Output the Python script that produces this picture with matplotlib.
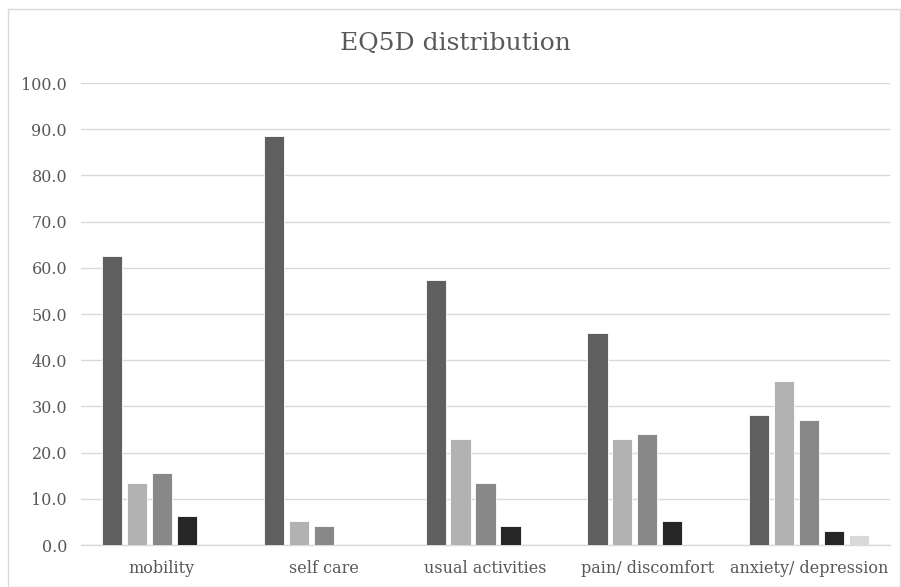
import numpy as np
import matplotlib.pyplot as plt
from matplotlib.patches import Rectangle

categories = ['mobility', 'self care', 'usual activities', 'pain/ discomfort', 'anxiety/ depression']
level1 = [62.5, 88.5, 57.3, 45.8, 28.1]
level2 = [13.5, 5.2, 22.9, 22.9, 35.4]
level3 = [15.6, 4.2, 13.5, 24.0, 27.1]
level4 = [6.2, 0.0, 4.2, 5.2, 3.1]
level5 = [0.0, 0.0, 0.0, 0.0, 2.1]
series = [level1, level2, level3, level4, level5]
colors = ['#5f5f5f', '#b2b2b2', '#888888', '#262626', '#d9d9d9']

plt.rcParams['font.family'] = ['DejaVu Serif']
txt = '#595959'

fig = plt.figure(figsize=(9.01, 5.87), dpi=100)
ax = fig.add_axes([81/901, 1 - 545/587, 809/901, 462/587])

x = np.arange(len(categories))
pitch = 0.154
for i, vals in enumerate(series):
    ax.bar(x + (i - 2) * pitch, vals, width=0.125, color=colors[i],
           edgecolor='white', linewidth=0.6, zorder=3)

ax.set_xlim(-0.5, 4.5)
ax.set_ylim(0, 100)
ax.set_yticks(np.arange(0, 101, 10))
ax.set_yticklabels([f'{v:.1f}' for v in range(0, 101, 10)])
ax.set_xticks(x)
ax.set_xticklabels(categories)
ax.tick_params(length=0, colors=txt, labelsize=11.5)
ax.tick_params(axis='x', pad=11)
ax.tick_params(axis='y', pad=10)
ax.grid(axis='y', color='#d9d9d9', linewidth=1, zorder=0)
for s in ['top', 'right', 'left']:
    ax.spines[s].set_visible(False)
ax.spines['bottom'].set_color('#d9d9d9')
ax.spines['bottom'].set_linewidth(1)

fig.text(455/901, 1 - 43/587, 'EQ5D distribution', ha='center', va='center',
         fontsize=18, color=txt)

fig.patches.append(Rectangle((8/901, 0), 892/901, 1 - 9/587, transform=fig.transFigure,
                             fill=False, edgecolor='#d9d9d9', linewidth=1))

fig.savefig('out.png', dpi=100)
